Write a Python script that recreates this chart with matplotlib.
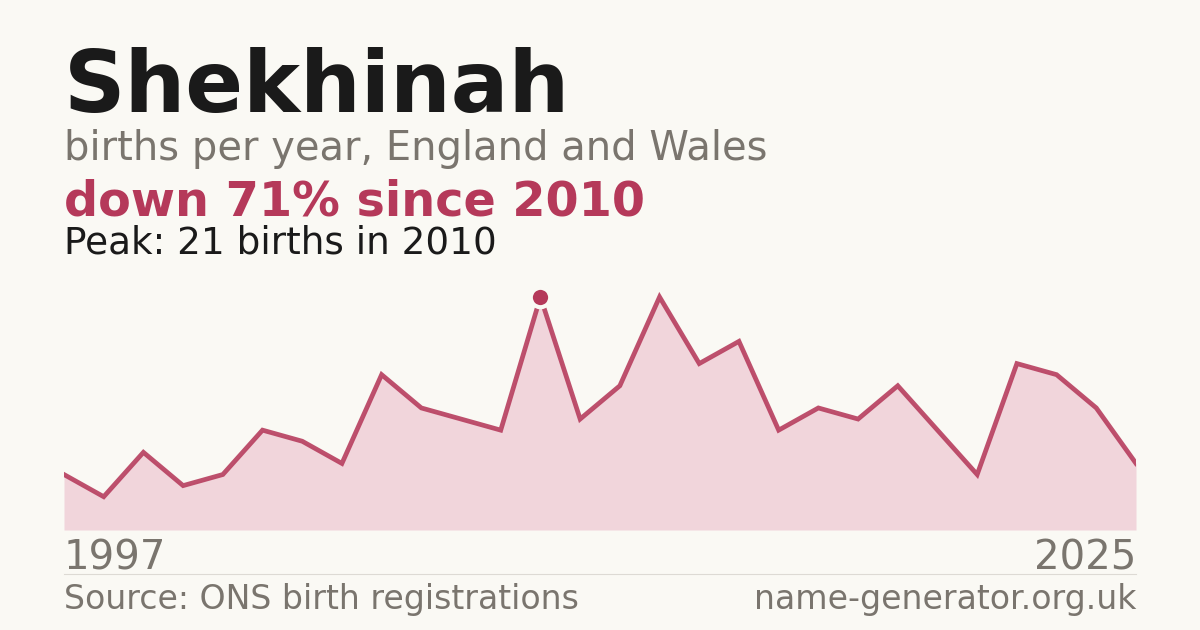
import matplotlib.pyplot as plt

# births per year, first to last year shown (one year has no figure)
births = [5, 3, 7, 4, 5, 9, 8, 6, 14, 11, 10, 9, 21, 10,
          13, 21, 15, 17, 9, 11, 10, 13, 9, 5, 15, 14, 11, 6]
first_year = "1997"
last_year = "2025"
peak_idx = 12

bg = "#faf9f4"
red = "#b5395a"
grey = "#7a756e"

W, H = 1200, 630
fig = plt.figure(figsize=(12, 6.3), dpi=100, facecolor=bg)

def px(x, y):
    return x / W, 1 - y / H

# plot area: 64..1136 px wide, baseline at 530 px, peak (21) at 297 px
ax = fig.add_axes([64 / W, 1 - 530 / H, (1136 - 64) / W, 250 / H])
ax.set_facecolor(bg)
xs = list(range(len(births)))
ymax = 21 * 250 / 233
ax.fill_between(xs, births, 0, color="#f1d5db", lw=0)
ax.plot(xs, births, color=red, lw=3.4, solid_joinstyle="miter", alpha=0.88)
ax.plot([xs[peak_idx]], [births[peak_idx]], "o", ms=14, color=red,
        mec=bg, mew=3.0, zorder=5)
ax.set_xlim(0, len(births) - 1)
ax.set_ylim(0, ymax)
ax.axis("off")

fig.text(*px(64, 112), "Shekhinah", fontsize=61.6, fontweight="bold",
         color="#1a1a1a", va="baseline")
fig.text(*px(64, 160), "births per year, England and Wales", fontsize=28.8,
         color=grey, va="baseline")
fig.text(*px(64, 215), "down 71% since 2010", fontsize=34.4, fontweight="bold",
         color=red, va="baseline")
fig.text(*px(64, 254), "Peak: 21 births in 2010", fontsize=26.9,
         color="#1a1a1a", va="baseline")

fig.text(*px(64, 570), first_year, fontsize=29, color=grey, va="baseline")
fig.text(*px(1136, 570), last_year, fontsize=29, color=grey, va="baseline",
         ha="right")
fig.add_artist(plt.Line2D([64 / W, 1136 / W], [1 - 574 / H] * 2,
                          color="#dddad4", lw=0.8))
fig.text(*px(64, 609), "Source: ONS birth registrations", fontsize=23.9,
         color=grey, va="baseline")
fig.text(*px(1136, 609), "name-generator.org.uk", fontsize=23.9,
         color=grey, va="baseline", ha="right")

fig.savefig("out.png", dpi=100, facecolor=bg)
